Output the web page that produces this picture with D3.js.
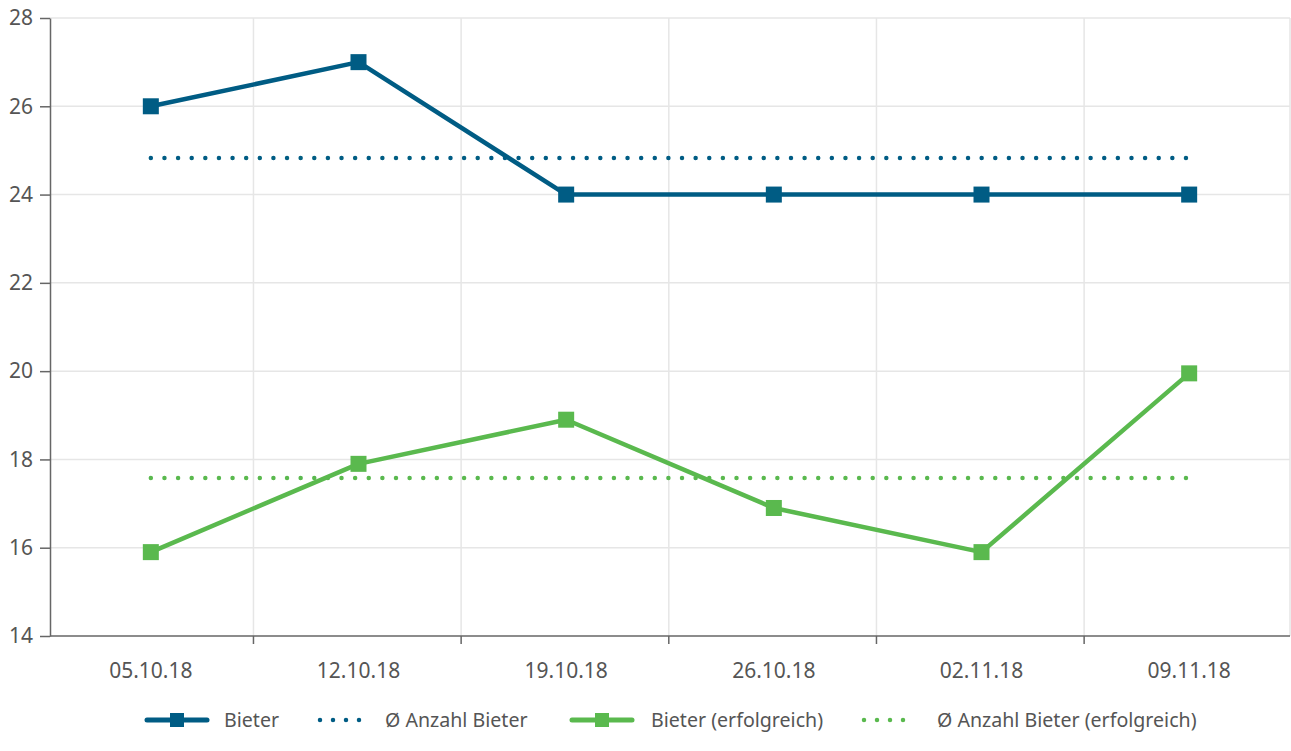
<!DOCTYPE html>
<html><head><meta charset="utf-8">
<script src="https://cdn.jsdelivr.net/npm/d3@7"></script>
<style>
body{margin:0;background:#fff;}
text{font-family:"Noto Sans","Open Sans",sans-serif;fill:#555;}
</style></head>
<body><svg id="c" width="1291" height="751"></svg>
<script>
const categories = ["05.10.18","12.10.18","19.10.18","26.10.18","02.11.18","09.11.18"];
const bieter = [26,27,24,24,24,24];
const bieterErfolgreich = [15.9,17.9,18.9,16.9,15.9,19.95];
const avgBieter = [24.83,24.83,24.83,24.83,24.83,24.83];
const avgErfolgreich = [17.58,17.58,17.58,17.58,17.58,17.58];
const yTicks = [14,16,18,20,22,24,26,28];
const legendLabels = ["Bieter","Ø Anzahl Bieter","Bieter (erfolgreich)","Ø Anzahl Bieter (erfolgreich)"];

const BLUE="#005c84", GREEN="#5ab94e", AXIS="#666", GRID="#e6e6e6";
const FS=21, LFS=19.6;
const svg=d3.select("#c");
const L=50,R=1290,T=18,B=636;
const x=d3.scaleBand().domain(categories).range([47,1293]).paddingInner(0).paddingOuter(0);
const cx=d=>x(d)+x.bandwidth()/2;
const y=d3.scaleLinear().domain([14,28]).range([B,T]);

// grid
const g=svg.append("g");
g.selectAll(".hg").data(yTicks.slice(1)).join("line")
 .attr("x1",L).attr("x2",R).attr("y1",d=>y(d)).attr("y2",d=>y(d))
 .attr("stroke",GRID).attr("stroke-width",1.5);
const bounds=categories.slice(1).map(c=>x(c)-1.2);
g.selectAll(".vg").data(bounds).join("line")
 .attr("x1",d=>d).attr("x2",d=>d).attr("y1",T).attr("y2",B)
 .attr("stroke",GRID).attr("stroke-width",1.5);
g.append("line").attr("x1",R).attr("x2",R).attr("y1",T).attr("y2",B).attr("stroke",GRID).attr("stroke-width",1.5);

// y axis
const ya=svg.append("g").attr("transform",`translate(${L},0)`)
 .call(d3.axisLeft(y).tickValues(yTicks).tickSize(10).tickPadding(7).tickSizeOuter(0));
ya.select(".domain").attr("stroke",AXIS).attr("stroke-width",1.5);
ya.selectAll(".tick line").attr("stroke",AXIS).attr("stroke-width",1.5);
ya.selectAll(".tick text").attr("font-size",FS).attr("fill","#555").attr("font-family",null);

// x axis
const xa=svg.append("g").attr("transform",`translate(0,${B})`)
 .call(d3.axisBottom(x).tickSize(0).tickPadding(27).tickSizeOuter(0));
xa.select(".domain").remove();
xa.append("line").attr("x1",L).attr("x2",R).attr("stroke",AXIS).attr("stroke-width",1.5);
xa.selectAll(".bt").data(bounds).join("line").attr("x1",d=>d).attr("x2",d=>d).attr("y1",0).attr("y2",8)
 .attr("stroke",AXIS).attr("stroke-width",1.5);
xa.selectAll(".tick text").attr("font-size",FS).attr("fill","#555").attr("font-family",null);

const line=d3.line().x((d,i)=>cx(categories[i])).y(d=>y(d));
function dotted(data,color){
 svg.append("path").attr("d",line(data)).attr("fill","none").attr("stroke",color)
  .attr("stroke-width",4.5).attr("stroke-linecap","round").attr("stroke-dasharray","0 13.62");
}
function series(data,color){
 svg.append("path").attr("d",line(data)).attr("fill","none").attr("stroke",color).attr("stroke-width",4.5).attr("stroke-linejoin","round");
 svg.selectAll(null).data(data).join("rect")
  .attr("x",(d,i)=>cx(categories[i])-8).attr("y",d=>y(d)-8).attr("width",16).attr("height",16).attr("fill",color);
}
dotted(avgBieter,BLUE);
dotted(avgErfolgreich,GREEN);
series(bieter,BLUE);
series(bieterErfolgreich,GREEN);

// legend
const ly=720;
const leg=svg.append("g");
const items=[
 {x:147,type:"line",c:BLUE,tx:224},
 {x:320,type:"dot",c:BLUE,tx:385},
 {x:572,type:"line",c:GREEN,tx:651},
 {x:864,type:"dot",c:GREEN,tx:937}
];
items.forEach((it,i)=>{
 if(it.type==="line"){
  leg.append("line").attr("x1",it.x).attr("x2",it.x+60).attr("y1",ly).attr("y2",ly).attr("stroke",it.c).attr("stroke-width",5).attr("stroke-linecap","round");
  leg.append("rect").attr("x",it.x+23).attr("y",ly-7).attr("width",14).attr("height",14).attr("fill",it.c);
 } else {
  leg.append("line").attr("x1",it.x).attr("x2",it.x+52).attr("y1",ly).attr("y2",ly).attr("stroke",it.c).attr("stroke-width",4.5).attr("stroke-linecap","round").attr("stroke-dasharray","0 13");
 }
 leg.append("text").attr("x",it.tx).attr("y",ly).attr("dy","0.35em").attr("font-size",LFS).text(legendLabels[i]);
});
</script></body></html>
